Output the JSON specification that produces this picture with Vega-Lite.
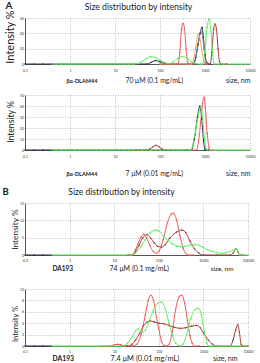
{
"$schema": "https://vega.github.io/schema/vega-lite/v6.json",
"padding": {"left": 2, "right": 2, "top": 0, "bottom": 0},
"config": {
  "font": "Lato",
  "view": {"stroke": null},
  "axis": {"labelColor": "#333", "titleColor": "#1a1a1a", "titleFontWeight": "normal", "domainColor": "#555", "gridColor": "#b0b0b0", "gridDash": [1, 1.5], "gridWidth": 0.8, "labelOverlap": false, "labelFlush": false}
},
"datasets": {
  "a1": [
    {"s":"black","x":0.1,"y":0},{"s":"black","x":0.16,"y":0},{"s":"black","x":0.25,"y":0},{"s":"black","x":0.4,"y":0},{"s":"black","x":50,"y":0},{"s":"black","x":63,"y":2},{"s":"black","x":79,"y":4.5},{"s":"black","x":100,"y":3},{"s":"black","x":126,"y":0.5},{"s":"black","x":160,"y":0},{"s":"black","x":550,"y":0},{"s":"black","x":620,"y":8},{"s":"black","x":700,"y":25},{"s":"black","x":780,"y":40},{"s":"black","x":860,"y":48},{"s":"black","x":920,"y":35},{"s":"black","x":1000,"y":12},{"s":"black","x":1100,"y":2},{"s":"black","x":1200,"y":0},
    {"s":"blue","x":400,"y":0},{"s":"blue","x":560,"y":0},{"s":"blue","x":640,"y":12},{"s":"blue","x":720,"y":30},{"s":"blue","x":800,"y":42},{"s":"blue","x":860,"y":40},{"s":"blue","x":950,"y":20},{"s":"blue","x":1050,"y":3},{"s":"blue","x":1150,"y":0},
    {"s":"orange","x":100,"y":0},{"s":"orange","x":200,"y":0},{"s":"orange","x":400,"y":0},{"s":"orange","x":500,"y":0},{"s":"orange","x":560,"y":6},{"s":"orange","x":630,"y":22},{"s":"orange","x":700,"y":38},{"s":"orange","x":760,"y":35},{"s":"orange","x":850,"y":18},{"s":"orange","x":950,"y":3},{"s":"orange","x":1050,"y":0},
    {"s":"dkred","x":1000,"y":0},{"s":"dkred","x":1300,"y":0},{"s":"dkred","x":1420,"y":15},{"s":"dkred","x":1550,"y":45},{"s":"dkred","x":1660,"y":52},{"s":"dkred","x":1800,"y":45},{"s":"dkred","x":1950,"y":20},{"s":"dkred","x":2100,"y":3},{"s":"dkred","x":2250,"y":0},{"s":"dkred","x":3000,"y":0},
    {"s":"red","x":100,"y":0},{"s":"red","x":126,"y":0},{"s":"red","x":158,"y":0},{"s":"red","x":200,"y":0},{"s":"red","x":250,"y":0},{"s":"red","x":275,"y":15},{"s":"red","x":300,"y":45},{"s":"red","x":325,"y":53},{"s":"red","x":350,"y":46},{"s":"red","x":380,"y":20},{"s":"red","x":410,"y":3},{"s":"red","x":440,"y":0},{"s":"red","x":550,"y":0},
    {"s":"green","x":0.4,"y":0},{"s":"green","x":0.5,"y":0},{"s":"green","x":0.63,"y":0},{"s":"green","x":0.79,"y":0},{"s":"green","x":1,"y":0},{"s":"green","x":1.26,"y":0},{"s":"green","x":1.58,"y":0},{"s":"green","x":2,"y":0},{"s":"green","x":2.51,"y":0},{"s":"green","x":3.16,"y":0},{"s":"green","x":3.98,"y":0},{"s":"green","x":5.01,"y":0},{"s":"green","x":6.31,"y":0},{"s":"green","x":7.94,"y":0},{"s":"green","x":10,"y":0},{"s":"green","x":12.6,"y":0},{"s":"green","x":15.8,"y":0},{"s":"green","x":20,"y":0},{"s":"green","x":25.1,"y":0},{"s":"green","x":31.6,"y":0.5},{"s":"green","x":39.8,"y":3},{"s":"green","x":50.1,"y":7},{"s":"green","x":63.1,"y":9.5},{"s":"green","x":79.4,"y":8.5},{"s":"green","x":100,"y":5},{"s":"green","x":126,"y":2},{"s":"green","x":158,"y":0.5},{"s":"green","x":200,"y":3},{"s":"green","x":251,"y":7.5},{"s":"green","x":316,"y":9.5},{"s":"green","x":398,"y":7.5},{"s":"green","x":501,"y":3},{"s":"green","x":631,"y":0.5},{"s":"green","x":794,"y":0},{"s":"green","x":900,"y":0},{"s":"green","x":1000,"y":18},{"s":"green","x":1120,"y":48},{"s":"green","x":1230,"y":59},{"s":"green","x":1350,"y":42},{"s":"green","x":1480,"y":12},{"s":"green","x":1600,"y":0},{"s":"green","x":2000,"y":0},{"s":"green","x":2510,"y":0},{"s":"green","x":3160,"y":0},{"s":"green","x":3980,"y":0},{"s":"green","x":5010,"y":0},{"s":"green","x":6310,"y":0},{"s":"green","x":7940,"y":0},{"s":"green","x":10000,"y":0}
  ],
  "a2": [
    {"s":"black","x":0.1,"y":0},{"s":"black","x":0.16,"y":0},{"s":"black","x":0.25,"y":0},{"s":"black","x":0.4,"y":0},{"s":"black","x":400,"y":0},{"s":"black","x":500,"y":0},{"s":"black","x":580,"y":10},{"s":"black","x":680,"y":30},{"s":"black","x":770,"y":40},{"s":"black","x":850,"y":28},{"s":"black","x":930,"y":8},{"s":"black","x":1000,"y":0},{"s":"black","x":1200,"y":0},
    {"s":"dkred","x":30,"y":0},{"s":"dkred","x":50,"y":0},{"s":"dkred","x":60,"y":1},{"s":"dkred","x":70,"y":3},{"s":"dkred","x":81,"y":4.2},{"s":"dkred","x":95,"y":3},{"s":"dkred","x":110,"y":1},{"s":"dkred","x":130,"y":0},{"s":"dkred","x":160,"y":0},
    {"s":"red","x":500,"y":0},{"s":"red","x":650,"y":0},{"s":"red","x":720,"y":8},{"s":"red","x":800,"y":25},{"s":"red","x":880,"y":42},{"s":"red","x":950,"y":48},{"s":"red","x":1020,"y":38},{"s":"red","x":1120,"y":15},{"s":"red","x":1230,"y":2},{"s":"red","x":1300,"y":0},{"s":"red","x":1500,"y":0},
    {"s":"green","x":0.4,"y":0},{"s":"green","x":0.5,"y":0},{"s":"green","x":0.63,"y":0},{"s":"green","x":0.79,"y":0},{"s":"green","x":1,"y":0},{"s":"green","x":1.26,"y":0},{"s":"green","x":1.58,"y":0},{"s":"green","x":2,"y":0},{"s":"green","x":2.51,"y":0},{"s":"green","x":3.16,"y":0},{"s":"green","x":3.98,"y":0},{"s":"green","x":5.01,"y":0},{"s":"green","x":6.31,"y":0},{"s":"green","x":7.94,"y":0},{"s":"green","x":10,"y":0},{"s":"green","x":12.6,"y":0},{"s":"green","x":15.8,"y":0},{"s":"green","x":20,"y":0},{"s":"green","x":25.1,"y":0},{"s":"green","x":31.6,"y":0},{"s":"green","x":39.8,"y":0},{"s":"green","x":50.1,"y":0},{"s":"green","x":63.1,"y":0},{"s":"green","x":79.4,"y":0},{"s":"green","x":100,"y":0},{"s":"green","x":126,"y":0},{"s":"green","x":158,"y":0},{"s":"green","x":200,"y":0},{"s":"green","x":251,"y":0},{"s":"green","x":316,"y":0},{"s":"green","x":398,"y":0},{"s":"green","x":480,"y":0},{"s":"green","x":540,"y":5},{"s":"green","x":620,"y":18},{"s":"green","x":720,"y":33},{"s":"green","x":810,"y":39},{"s":"green","x":880,"y":30},{"s":"green","x":960,"y":12},{"s":"green","x":1050,"y":2},{"s":"green","x":1120,"y":0},{"s":"green","x":1260,"y":0},{"s":"green","x":1580,"y":0},{"s":"green","x":2000,"y":0},{"s":"green","x":2510,"y":0},{"s":"green","x":3160,"y":0},{"s":"green","x":3980,"y":0},{"s":"green","x":5010,"y":0},{"s":"green","x":6310,"y":0},{"s":"green","x":7940,"y":0},{"s":"green","x":10000,"y":0}
  ],
  "b1": [
    {"s":"black","x":0.1,"y":0},{"s":"black","x":0.16,"y":0},{"s":"black","x":0.25,"y":0},{"s":"black","x":0.4,"y":0},
    {"s":"dkred","x":20,"y":0},{"s":"dkred","x":25,"y":0},{"s":"dkred","x":30,"y":1},{"s":"dkred","x":36,"y":2.8},{"s":"dkred","x":43,"y":4.8},{"s":"dkred","x":54,"y":5.9},{"s":"dkred","x":65,"y":5},{"s":"dkred","x":79,"y":3.5},{"s":"dkred","x":95,"y":2.5},{"s":"dkred","x":115,"y":2.3},{"s":"dkred","x":140,"y":3},{"s":"dkred","x":180,"y":5},{"s":"dkred","x":250,"y":6.6},{"s":"dkred","x":330,"y":7.2},{"s":"dkred","x":400,"y":6.5},{"s":"dkred","x":500,"y":4},{"s":"dkred","x":630,"y":1.8},{"s":"dkred","x":800,"y":0.5},{"s":"dkred","x":1000,"y":0},{"s":"dkred","x":2000,"y":0},{"s":"dkred","x":4000,"y":0},{"s":"dkred","x":4600,"y":0.5},{"s":"dkred","x":5400,"y":1.8},{"s":"dkred","x":6000,"y":0.8},{"s":"dkred","x":6500,"y":0},{"s":"dkred","x":8000,"y":0},
    {"s":"red","x":20,"y":0},{"s":"red","x":25,"y":0},{"s":"red","x":30,"y":1.5},{"s":"red","x":35,"y":3.5},{"s":"red","x":40,"y":5.2},{"s":"red","x":46,"y":6},{"s":"red","x":53,"y":5},{"s":"red","x":63,"y":2.8},{"s":"red","x":75,"y":1},{"s":"red","x":89,"y":0.5},{"s":"red","x":100,"y":1},{"s":"red","x":126,"y":4.5},{"s":"red","x":158,"y":9.5},{"s":"red","x":190,"y":11.8},{"s":"red","x":215,"y":12},{"s":"red","x":251,"y":10},{"s":"red","x":300,"y":5.5},{"s":"red","x":350,"y":2},{"s":"red","x":400,"y":0.5},{"s":"red","x":450,"y":0},{"s":"red","x":600,"y":0},
    {"s":"green","x":0.4,"y":0},{"s":"green","x":0.5,"y":0},{"s":"green","x":0.63,"y":0},{"s":"green","x":0.79,"y":0},{"s":"green","x":1,"y":0},{"s":"green","x":1.26,"y":0},{"s":"green","x":1.58,"y":0},{"s":"green","x":2,"y":0},{"s":"green","x":2.51,"y":0},{"s":"green","x":3.16,"y":0},{"s":"green","x":3.98,"y":0},{"s":"green","x":5.01,"y":0},{"s":"green","x":6.31,"y":0},{"s":"green","x":7.94,"y":0},{"s":"green","x":10,"y":0},{"s":"green","x":12.6,"y":0},{"s":"green","x":15.8,"y":0},{"s":"green","x":20,"y":0},{"s":"green","x":25,"y":0},{"s":"green","x":30,"y":0.5},{"s":"green","x":40,"y":2.5},{"s":"green","x":50,"y":4.5},{"s":"green","x":63,"y":6.3},{"s":"green","x":79,"y":7.1},{"s":"green","x":90,"y":7.2},{"s":"green","x":100,"y":6.9},{"s":"green","x":126,"y":5.5},{"s":"green","x":158,"y":4.2},{"s":"green","x":200,"y":3.2},{"s":"green","x":251,"y":2.6},{"s":"green","x":316,"y":2.4},{"s":"green","x":400,"y":2.5},{"s":"green","x":500,"y":2.8},{"s":"green","x":631,"y":3},{"s":"green","x":794,"y":2.8},{"s":"green","x":1000,"y":2.2},{"s":"green","x":1259,"y":1.5},{"s":"green","x":1585,"y":1},{"s":"green","x":2000,"y":0.7},{"s":"green","x":2512,"y":0.5},{"s":"green","x":3162,"y":0.6},{"s":"green","x":3981,"y":1},{"s":"green","x":5012,"y":1.6},{"s":"green","x":5400,"y":1.8},{"s":"green","x":6000,"y":1},{"s":"green","x":6500,"y":0},{"s":"green","x":7940,"y":0},{"s":"green","x":10000,"y":0}
  ],
  "b2": [
    {"s":"black","x":0.1,"y":0},{"s":"black","x":0.16,"y":0},{"s":"black","x":0.25,"y":0},{"s":"black","x":0.4,"y":0},
    {"s":"dkred","x":15,"y":0},{"s":"dkred","x":20,"y":0},{"s":"dkred","x":25,"y":0.3},{"s":"dkred","x":30,"y":1},{"s":"dkred","x":37,"y":2.2},{"s":"dkred","x":45,"y":3.5},{"s":"dkred","x":55,"y":4.2},{"s":"dkred","x":63,"y":4.4},{"s":"dkred","x":80,"y":4.2},{"s":"dkred","x":100,"y":4},{"s":"dkred","x":130,"y":3.9},{"s":"dkred","x":170,"y":3.6},{"s":"dkred","x":220,"y":3.3},{"s":"dkred","x":300,"y":3.1},{"s":"dkred","x":400,"y":3.2},{"s":"dkred","x":550,"y":3.5},{"s":"dkred","x":700,"y":3.6},{"s":"dkred","x":850,"y":3.2},{"s":"dkred","x":1000,"y":2.3},{"s":"dkred","x":1300,"y":1},{"s":"dkred","x":1600,"y":0.3},{"s":"dkred","x":2000,"y":0},{"s":"dkred","x":4000,"y":0},{"s":"dkred","x":4600,"y":1},{"s":"dkred","x":5300,"y":2.8},{"s":"dkred","x":5900,"y":3.7},{"s":"dkred","x":6400,"y":2.5},{"s":"dkred","x":7000,"y":0.3},{"s":"dkred","x":7500,"y":0},{"s":"dkred","x":10000,"y":0},
    {"s":"red","x":5,"y":0},{"s":"red","x":8,"y":0},{"s":"red","x":10,"y":0.2},{"s":"red","x":12,"y":0.3},{"s":"red","x":14,"y":0.2},{"s":"red","x":17,"y":0},{"s":"red","x":25,"y":0},{"s":"red","x":32,"y":0.3},{"s":"red","x":40,"y":2},{"s":"red","x":50,"y":5.5},{"s":"red","x":58,"y":8},{"s":"red","x":66,"y":8.9},{"s":"red","x":76,"y":8},{"s":"red","x":89,"y":5},{"s":"red","x":100,"y":3},{"s":"red","x":115,"y":0.8},{"s":"red","x":130,"y":0.1},{"s":"red","x":145,"y":0},{"s":"red","x":170,"y":0.3},{"s":"red","x":200,"y":2.5},{"s":"red","x":240,"y":6.5},{"s":"red","x":290,"y":8.7},{"s":"red","x":330,"y":8.9},{"s":"red","x":380,"y":7.5},{"s":"red","x":440,"y":4.5},{"s":"red","x":500,"y":1.8},{"s":"red","x":560,"y":0.5},{"s":"red","x":630,"y":0},{"s":"red","x":800,"y":0},
    {"s":"green","x":0.4,"y":0},{"s":"green","x":0.5,"y":0},{"s":"green","x":0.63,"y":0},{"s":"green","x":0.79,"y":0},{"s":"green","x":1,"y":0},{"s":"green","x":1.26,"y":0},{"s":"green","x":1.58,"y":0},{"s":"green","x":2,"y":0},{"s":"green","x":2.51,"y":0},{"s":"green","x":3.16,"y":0},{"s":"green","x":3.98,"y":0},{"s":"green","x":5.01,"y":0},{"s":"green","x":6.31,"y":0},{"s":"green","x":7.94,"y":0},{"s":"green","x":10,"y":0},{"s":"green","x":12.6,"y":0},{"s":"green","x":15,"y":0},{"s":"green","x":17,"y":0.1},{"s":"green","x":20,"y":0.5},{"s":"green","x":25,"y":1.5},{"s":"green","x":30,"y":2.6},{"s":"green","x":34,"y":3},{"s":"green","x":39,"y":2.6},{"s":"green","x":44,"y":2.4},{"s":"green","x":50,"y":2.8},{"s":"green","x":60,"y":4.2},{"s":"green","x":75,"y":6.2},{"s":"green","x":95,"y":7.5},{"s":"green","x":117,"y":7.7},{"s":"green","x":140,"y":6.5},{"s":"green","x":170,"y":4},{"s":"green","x":200,"y":2},{"s":"green","x":240,"y":0.5},{"s":"green","x":300,"y":0},{"s":"green","x":350,"y":0.3},{"s":"green","x":420,"y":2},{"s":"green","x":520,"y":4.8},{"s":"green","x":650,"y":6.4},{"s":"green","x":780,"y":6.6},{"s":"green","x":900,"y":5.5},{"s":"green","x":1050,"y":2.5},{"s":"green","x":1200,"y":0.5},{"s":"green","x":1300,"y":0},{"s":"green","x":1585,"y":0},{"s":"green","x":2000,"y":0},{"s":"green","x":2512,"y":0},{"s":"green","x":3162,"y":0},{"s":"green","x":3981,"y":0},{"s":"green","x":5012,"y":0},{"s":"green","x":6310,"y":0},{"s":"green","x":7943,"y":0},{"s":"green","x":10000,"y":0}
  ]
},
"align": "none",
"spacing": 9,
"vconcat": [
  {
    "width": 225, "height": 46,
    "data": {"name": "a1"},
    "encoding": {"color": {"field": "s", "type": "nominal", "legend": null, "scale": {"domain": ["black","blue","orange","dkred","red","green"], "range": ["#2b2d42","#6c7fa8","#f3a65a","#a03c3c","#ea5a5a","#5ef05e"]}}},
    "resolve": {"axis": {"x": "independent", "y": "independent"}},
    "layer": [
      {"transform": [{"filter": "datum.s !== 'green'"}],
       "mark": {"type": "line", "interpolate": "monotone", "strokeWidth": 1},
       "encoding": {
         "x": {"field": "x", "type": "quantitative", "scale": {"type": "log", "domain": [0.1, 10000], "nice": false}, "axis": {"values": [0.1,1,10,100,1000,10000], "format": "~g", "grid": true, "ticks": false, "labelFontSize": 3.5, "labelPadding": 4, "title": "βα-DLAM44", "titleFontSize": 5.5, "titleFontWeight": "bold", "titleX": 41, "titleY": 18, "titleAlign": "left", "titleBaseline": "alphabetic"}},
         "y": {"field": "y", "type": "quantitative", "scale": {"domain": [0, 60], "nice": false}, "axis": {"values": [0,20,40,60], "grid": true, "ticks": false, "labelFontSize": 3.5, "labelPadding": 1.5, "title": "Intensity %", "titleFontSize": 11, "titleX": -15, "titleY": 18.5, "titleAngle": 270, "titleAlign": "center", "titleBaseline": "middle"}}
       }},
      {"transform": [{"filter": "datum.s === 'green'"}],
       "mark": {"type": "line", "interpolate": "monotone", "strokeWidth": 1},
       "encoding": {
         "x": {"field": "x", "type": "quantitative", "scale": {"type": "log", "domain": [0.1, 10000], "nice": false}, "axis": {"orient": "top", "labels": false, "ticks": false, "domain": false, "grid": false, "title": "Size distribution by intensity", "titleFontSize": 8.7, "titleX": 113, "titleY": -9, "titleAlign": "center", "titleBaseline": "alphabetic"}},
         "y": {"field": "y", "type": "quantitative", "scale": {"domain": [0, 60], "nice": false}, "axis": {"orient": "right", "labels": false, "ticks": false, "domain": false, "grid": false, "title": "size, nm", "titleFontSize": 7, "titleAngle": 0, "titleX": 0, "titleY": 64, "titleAlign": "right", "titleBaseline": "alphabetic"}}
       }},
      {"mark": {"type": "point", "filled": true, "size": 2.5, "opacity": 1},
       "encoding": {
         "x": {"field": "x", "type": "quantitative", "scale": {"type": "log", "domain": [0.1, 10000], "nice": false}, "axis": {"orient": "bottom", "labels": false, "ticks": false, "domain": false, "grid": false, "title": "70 μM (0.1 mg/mL)", "titleFontSize": 6.8, "titleX": 100, "titleY": 18, "titleAlign": "left", "titleBaseline": "alphabetic"}},
         "y": {"field": "y", "type": "quantitative", "scale": {"domain": [0, 60], "nice": false}, "axis": {"orient": "left", "labels": false, "ticks": false, "domain": false, "grid": false, "title": "A", "titleFontSize": 10, "titleFontWeight": "bold", "titleAngle": 0, "titleX": -20, "titleY": -9.7, "titleAlign": "left", "titleBaseline": "alphabetic"}}
       }}
    ]
  },
  {
    "width": 225, "height": 55,
    "data": {"name": "a2"},
    "encoding": {"color": {"field": "s", "type": "nominal", "legend": null, "scale": {"domain": ["black","blue","orange","dkred","red","green"], "range": ["#2b2d42","#6c7fa8","#f3a65a","#a03c3c","#ea5a5a","#5ef05e"]}}},
    "resolve": {"axis": {"x": "independent", "y": "independent"}},
    "layer": [
      {"transform": [{"filter": "datum.s !== 'green'"}],
       "mark": {"type": "line", "interpolate": "monotone", "strokeWidth": 1},
       "encoding": {
         "x": {"field": "x", "type": "quantitative", "scale": {"type": "log", "domain": [0.1, 10000], "nice": false}, "axis": {"values": [0.1,1,10,100,1000,10000], "format": "~g", "grid": true, "ticks": false, "labelFontSize": 3.5, "labelPadding": 4, "title": "βα-DLAM44", "titleFontSize": 5.5, "titleFontWeight": "bold", "titleX": 41, "titleY": 25, "titleAlign": "left", "titleBaseline": "alphabetic"}},
         "y": {"field": "y", "type": "quantitative", "scale": {"domain": [0, 50], "nice": false}, "axis": {"values": [0,10,20,30,40,50], "grid": true, "ticks": false, "labelFontSize": 3.5, "labelPadding": 1.5, "title": "Intensity %", "titleFontSize": 8.6, "titleX": -15, "titleY": 26.5, "titleAngle": 270, "titleAlign": "center", "titleBaseline": "middle"}}
       }},
      {"transform": [{"filter": "datum.s === 'green'"}],
       "mark": {"type": "line", "interpolate": "monotone", "strokeWidth": 1},
       "encoding": {
         "x": {"field": "x", "type": "quantitative", "scale": {"type": "log", "domain": [0.1, 10000], "nice": false}, "axis": null},
         "y": {"field": "y", "type": "quantitative", "scale": {"domain": [0, 50], "nice": false}, "axis": {"orient": "right", "labels": false, "ticks": false, "domain": false, "grid": false, "title": "size, nm", "titleFontSize": 7, "titleAngle": 0, "titleX": 0, "titleY": 80, "titleAlign": "right", "titleBaseline": "alphabetic"}}
       }},
      {"mark": {"type": "point", "filled": true, "size": 2.5, "opacity": 1},
       "encoding": {
         "x": {"field": "x", "type": "quantitative", "scale": {"type": "log", "domain": [0.1, 10000], "nice": false}, "axis": {"orient": "bottom", "labels": false, "ticks": false, "domain": false, "grid": false, "title": "7 μM (0.01 mg/mL)", "titleFontSize": 6.8, "titleX": 100, "titleY": 25, "titleAlign": "left", "titleBaseline": "alphabetic"}},
         "y": {"field": "y", "type": "quantitative", "scale": {"domain": [0, 50], "nice": false}, "axis": null}
       }}
    ]
  },
  {
    "width": 223, "height": 52,
    "data": {"name": "b1"},
    "encoding": {"color": {"field": "s", "type": "nominal", "legend": null, "scale": {"domain": ["black","blue","orange","dkred","red","green"], "range": ["#2b2d42","#6c7fa8","#f3a65a","#a03c3c","#ea5a5a","#5ef05e"]}}},
    "resolve": {"axis": {"x": "independent", "y": "independent"}},
    "layer": [
      {"transform": [{"filter": "datum.s !== 'green'"}],
       "mark": {"type": "line", "interpolate": "monotone", "strokeWidth": 1},
       "encoding": {
         "x": {"field": "x", "type": "quantitative", "scale": {"type": "log", "domain": [0.1, 10000], "nice": false}, "axis": {"values": [0.1,1,10,100,1000,10000], "format": "~g", "grid": true, "ticks": false, "labelFontSize": 4, "labelPadding": 3.5, "title": "DA193", "titleFontSize": 6.5, "titleFontWeight": "bold", "titleX": 27, "titleY": 15.5, "titleAlign": "left", "titleBaseline": "alphabetic"}},
         "y": {"field": "y", "type": "quantitative", "scale": {"domain": [0, 15], "nice": false}, "axis": {"values": [0,5,10,15], "grid": true, "ticks": false, "labelFontSize": 3.5, "labelPadding": 1.5, "title": "Intensity %", "titleFontSize": 8.4, "titleX": -10.5, "titleY": 26, "titleAngle": 270, "titleAlign": "center", "titleBaseline": "middle"}}
       }},
      {"transform": [{"filter": "datum.s === 'green'"}],
       "mark": {"type": "line", "interpolate": "monotone", "strokeWidth": 1},
       "encoding": {
         "x": {"field": "x", "type": "quantitative", "scale": {"type": "log", "domain": [0.1, 10000], "nice": false}, "axis": {"orient": "top", "labels": false, "ticks": false, "domain": false, "grid": false, "title": "Size distribution by intensity", "titleFontSize": 8.6, "titleX": 96, "titleY": -8.5, "titleAlign": "center", "titleBaseline": "alphabetic"}},
         "y": {"field": "y", "type": "quantitative", "scale": {"domain": [0, 15], "nice": false}, "axis": {"orient": "right", "labels": false, "ticks": false, "domain": false, "grid": false, "title": "size, nm", "titleFontSize": 6.5, "titleAngle": 0, "titleX": -15, "titleY": 67.5, "titleAlign": "right", "titleBaseline": "alphabetic"}}
       }},
      {"mark": {"type": "point", "filled": true, "size": 2.5, "opacity": 1},
       "encoding": {
         "x": {"field": "x", "type": "quantitative", "scale": {"type": "log", "domain": [0.1, 10000], "nice": false}, "axis": {"orient": "bottom", "labels": false, "ticks": false, "domain": false, "grid": false, "title": "74 μM (0.1 mg/mL)", "titleFontSize": 7, "titleX": 84, "titleY": 15.5, "titleAlign": "left", "titleBaseline": "alphabetic"}},
         "y": {"field": "y", "type": "quantitative", "scale": {"domain": [0, 15], "nice": false}, "axis": {"orient": "left", "labels": false, "ticks": false, "domain": false, "grid": false, "title": "B", "titleFontSize": 9.5, "titleFontWeight": "bold", "titleAngle": 0, "titleX": -23, "titleY": -8.8, "titleAlign": "left", "titleBaseline": "alphabetic"}}
       }}
    ]
  },
  {
    "width": 223, "height": 57,
    "data": {"name": "b2"},
    "encoding": {"color": {"field": "s", "type": "nominal", "legend": null, "scale": {"domain": ["black","blue","orange","dkred","red","green"], "range": ["#2b2d42","#6c7fa8","#f3a65a","#a03c3c","#ea5a5a","#5ef05e"]}}},
    "resolve": {"axis": {"x": "independent", "y": "independent"}},
    "layer": [
      {"transform": [{"filter": "datum.s !== 'green'"}],
       "mark": {"type": "line", "interpolate": "monotone", "strokeWidth": 1},
       "encoding": {
         "x": {"field": "x", "type": "quantitative", "scale": {"type": "log", "domain": [0.1, 10000], "nice": false}, "axis": {"values": [0.1,1,10,100,1000,10000], "format": "~g", "grid": true, "ticks": false, "labelFontSize": 3.5, "labelPadding": 3, "title": "DA193", "titleFontSize": 6.8, "titleFontWeight": "bold", "titleX": 27, "titleY": 14.5, "titleAlign": "left", "titleBaseline": "alphabetic"}},
         "y": {"field": "y", "type": "quantitative", "scale": {"domain": [0, 10], "nice": false}, "axis": {"values": [0,2,4,6,8,10], "grid": true, "ticks": false, "labelFontSize": 3.5, "labelPadding": 1.5, "title": "Intensity %", "titleFontSize": 7.4, "titleX": -10, "titleY": 34.5, "titleAngle": 270, "titleAlign": "center", "titleBaseline": "middle"}}
       }},
      {"transform": [{"filter": "datum.s === 'green'"}],
       "mark": {"type": "line", "interpolate": "monotone", "strokeWidth": 1},
       "encoding": {
         "x": {"field": "x", "type": "quantitative", "scale": {"type": "log", "domain": [0.1, 10000], "nice": false}, "axis": null},
         "y": {"field": "y", "type": "quantitative", "scale": {"domain": [0, 10], "nice": false}, "axis": {"orient": "right", "labels": false, "ticks": false, "domain": false, "grid": false, "title": "size, nm", "titleFontSize": 7, "titleAngle": 0, "titleX": -11, "titleY": 71.5, "titleAlign": "right", "titleBaseline": "alphabetic"}}
       }},
      {"mark": {"type": "point", "filled": true, "size": 2.5, "opacity": 1},
       "encoding": {
         "x": {"field": "x", "type": "quantitative", "scale": {"type": "log", "domain": [0.1, 10000], "nice": false}, "axis": {"orient": "bottom", "labels": false, "ticks": false, "domain": false, "grid": false, "title": "7.4 μM (0.01 mg/mL)", "titleFontSize": 7.4, "titleX": 85, "titleY": 14.5, "titleAlign": "left", "titleBaseline": "alphabetic"}},
         "y": {"field": "y", "type": "quantitative", "scale": {"domain": [0, 10], "nice": false}, "axis": {"orient": "left", "labels": false, "ticks": false, "domain": false, "grid": false, "title": "\u00a0", "titleFontSize": 7, "titleAngle": 0, "titleX": -23, "titleY": -2, "titleAlign": "left", "titleBaseline": "alphabetic"}}
       }}
    ]
  }
]
}
